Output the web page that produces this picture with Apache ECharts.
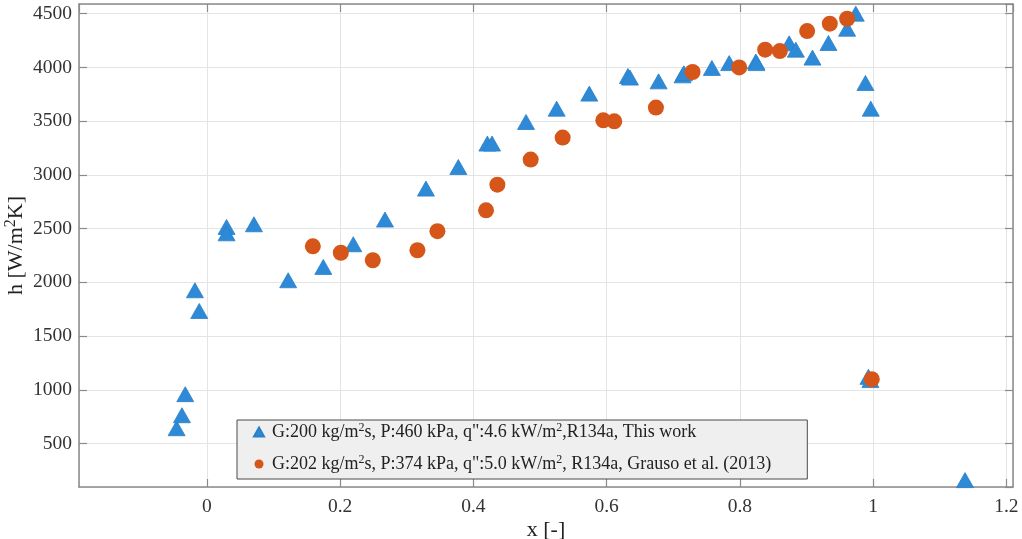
<!DOCTYPE html>
<html>
<head>
<meta charset="utf-8">
<script src="https://cdn.jsdelivr.net/npm/echarts@6/dist/echarts.min.js"></script>
<style>
  html, body { margin: 0; padding: 0; background: #fff; }
  #main { width: 1022px; height: 539px; }
</style>
</head>
<body>
<div id="main"></div>
<script>
// This work (triangles)
var xTri = [-0.0455, -0.0375, -0.0325, -0.018, -0.0115, 0.0295, 0.0295, 0.0706, 0.122, 0.1747,
  0.2197, 0.2673, 0.3288, 0.3774, 0.421, 0.428, 0.479, 0.525, 0.574, 0.632,
  0.635, 0.678, 0.714, 0.716, 0.758, 0.784, 0.824, 0.825, 0.874, 0.884,
  0.909, 0.933, 0.961, 0.974, 0.9885, 0.9965, 0.993, 0.996, 1.138];
var hTri = [642, 763, 959, 1926, 1733, 2515, 2456, 2540, 2019, 2143,
  2354, 2584, 2872, 3073, 3291, 3291, 3492, 3616, 3756, 3920,
  3905, 3870, 3926, 3945, 3995, 4040, 4055, 4040, 4224, 4165,
  4091, 4227, 4360, 4500, 3855, 3616, 1120, 1090, 159];

// Grauso et al. (2013) (circles)
var xCirc = [0.159, 0.201, 0.249, 0.316, 0.346, 0.419, 0.436, 0.486, 0.534, 0.595,
  0.6115, 0.674, 0.729, 0.799, 0.838, 0.860, 0.901, 0.935, 0.961, 0.998];
var hCirc = [2335, 2275, 2205, 2298, 2476, 2670, 2909, 3142, 3347, 3507,
  3498, 3626, 3957, 4000, 4165, 4152, 4338, 4407, 4453, 1098];

var seriesNames = ['This work', 'Grauso et al. (2013)'];
var legendText = {
  'This work': 'G:200 kg/m{sup|2}s, P:460 kPa, q":4.6 kW/m{sup|2},R134a, This work',
  'Grauso et al. (2013)': 'G:202 kg/m{sup|2}s, P:374 kPa, q":5.0 kW/m{sup|2}, R134a, Grauso et al. (2013)'
};

var xRange = [-0.192, 1.21];
var yRange = [95, 4590];

function pairs(xs, ys) {
  var out = [];
  for (var i = 0; i < xs.length; i++) out.push([xs[i], ys[i]]);
  return out;
}

var serif = 'Liberation Serif';
var axisColor = '#8a8a8a';

var baseX = {
  type: 'value', min: xRange[0], max: xRange[1], splitNumber: 7,
  axisLine: { show: true, onZero: false, lineStyle: { color: axisColor, width: 1.5 } },
  axisTick: { show: true, inside: true, length: 8, lineStyle: { color: axisColor, width: 1.2 } }
};
var baseY = {
  type: 'value', min: yRange[0], max: yRange[1], splitNumber: 9,
  axisLine: { show: true, onZero: false, lineStyle: { color: axisColor, width: 1.5 } },
  axisTick: { show: true, inside: true, length: 8, lineStyle: { color: axisColor, width: 1.2 } }
};

var option = {
  animation: false,
  backgroundColor: '#fff',
  grid: { left: 79, top: 4, right: 9, bottom: 52, containLabel: false, outerBoundsMode: 'none' },
  xAxis: [
    Object.assign({}, baseX, {
      position: 'bottom',
      name: 'x [-]', nameLocation: 'middle', nameGap: 32, nameMoveOverlap: false,
      nameTextStyle: { fontFamily: serif, fontSize: 22, color: '#222' },
      axisLabel: { showMinLabel: false, showMaxLabel: false, margin: 10,
        fontFamily: serif, fontSize: 19.5, color: '#333',
        formatter: function (v) { return String(Math.round(v * 10) / 10); } },
      splitLine: { show: true, lineStyle: { color: '#e4e4e4', width: 1 } }
    }),
    Object.assign({}, baseX, {
      position: 'top',
      axisLabel: { show: false },
      splitLine: { show: false }
    })
  ],
  yAxis: [
    Object.assign({}, baseY, {
      position: 'left',
      name: 'h [W/m{sup|2}K]', nameLocation: 'middle', nameGap: 50, nameMoveOverlap: false,
      nameTextStyle: { fontFamily: serif, fontSize: 22, color: '#222',
        rich: { sup: { fontFamily: serif, fontSize: 16, verticalAlign: 'bottom', padding: [0, 0, 10, 0], color: '#222' } } },
      axisLabel: { showMinLabel: false, showMaxLabel: false, margin: 7,
        fontFamily: serif, fontSize: 19.5, color: '#333',
        formatter: function (v) { return String(Math.round(v)); } },
      splitLine: { show: true, lineStyle: { color: '#e4e4e4', width: 1 } }
    }),
    Object.assign({}, baseY, {
      position: 'right',
      axisLabel: { show: false },
      splitLine: { show: false }
    })
  ],
  legend: {
    orient: 'vertical',
    left: 237, top: 420,
    padding: [2, 36, 5, 16],
    itemGap: 12,
    itemWidth: 10, itemHeight: 9,
    backgroundColor: '#efefef',
    borderColor: '#4a4a4a', borderWidth: 1,
    data: seriesNames,
    formatter: function (name) { return legendText[name]; },
    textStyle: {
      fontFamily: serif, fontSize: 18, color: '#222', lineHeight: 20,
      padding: [0, 0, 0, 3],
      rich: { sup: { fontFamily: serif, fontSize: 12, lineHeight: 20, verticalAlign: 'top', color: '#222' } }
    }
  },
  series: [
    {
      name: seriesNames[0], type: 'scatter', xAxisIndex: 0, yAxisIndex: 0,
      symbol: 'triangle', symbolSize: [17, 15],
      itemStyle: { color: '#2e8ad6', borderColor: '#2a7fc8', borderWidth: 0.8, opacity: 1 },
      data: pairs(xTri, hTri)
    },
    {
      name: seriesNames[1], type: 'scatter', xAxisIndex: 0, yAxisIndex: 0,
      symbol: 'circle', symbolSize: 16,
      itemStyle: { color: '#d6561a', opacity: 1 },
      data: pairs(xCirc, hCirc)
    }
  ]
};

var chart = echarts.init(document.getElementById('main'), null, { renderer: 'canvas' });
chart.setOption(option);
</script>
</body>
</html>
